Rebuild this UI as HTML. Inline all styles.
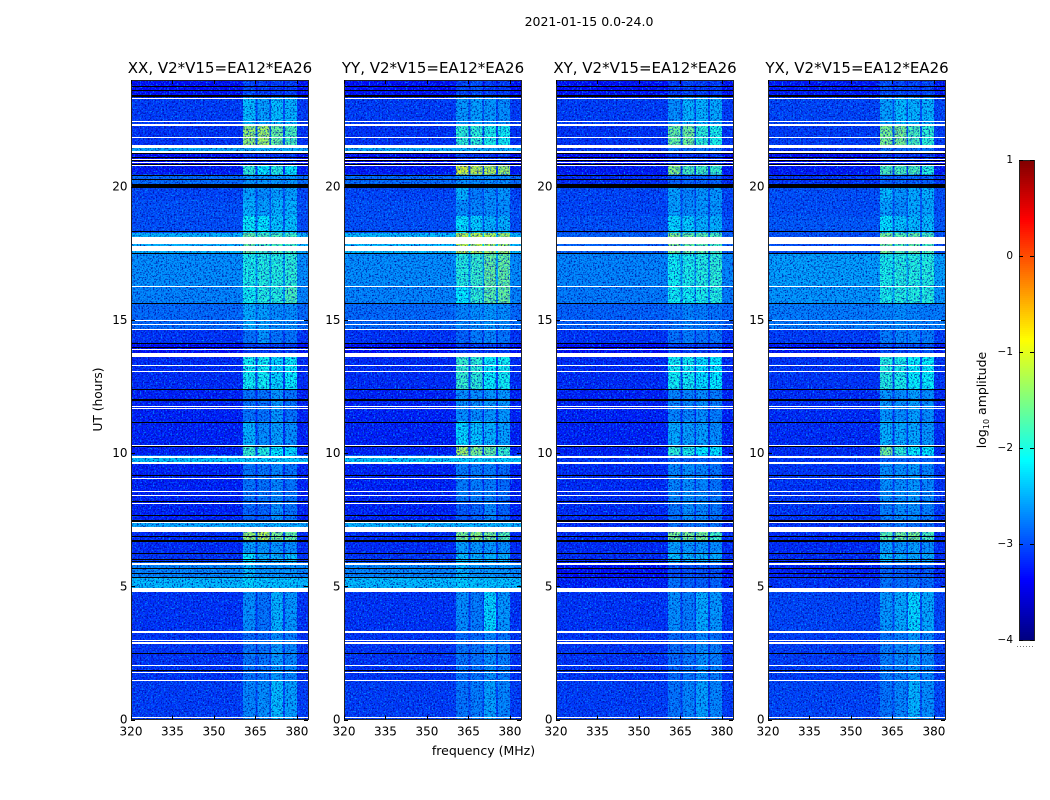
<!DOCTYPE html>
<html lang="en">
<head>
<meta charset="utf-8">
<title>2021-01-15 0.0-24.0</title>
<style>
html,body{margin:0;padding:0;background:#fff;}
svg{display:block;}
text{font-family:"DejaVu Sans","Liberation Sans",sans-serif;fill:#000;}
</style>
</head>
<body>
<svg id="chart" xmlns="http://www.w3.org/2000/svg" width="1050" height="800" viewBox="0 0 1050 800">
  <defs>
    <filter id="grain-light" x="0" y="0" width="100%" height="100%" color-interpolation-filters="sRGB">
      <feTurbulence type="fractalNoise" baseFrequency="0.62" numOctaves="2" seed="4"/>
      <feColorMatrix type="matrix" values="0 0 0 0 0  0 0 0 0 0.62  0 0 0 0 1  4 0 0 0 -2.0"/>
    </filter>
    <filter id="grain-dark" x="0" y="0" width="100%" height="100%" color-interpolation-filters="sRGB">
      <feTurbulence type="fractalNoise" baseFrequency="0.62" numOctaves="2" seed="11"/>
      <feColorMatrix type="matrix" values="0 0 0 0 0  0 0 0 0 0  0 0 0 0 0.6  0 4 0 0 -1.95"/>
    </filter>
  </defs>
  <text x="589" y="26" font-size="12.5" text-anchor="middle">2021-01-15 0.0-24.0</text>
  <text x="0" y="0" font-size="12.2" text-anchor="middle" transform="translate(102,399.5) rotate(-90)">UT (hours)</text>
  <text x="483.5" y="755" font-size="12.5" text-anchor="middle">frequency (MHz)</text>
  <text x="0" y="0" font-size="12.5" text-anchor="middle" transform="translate(986,400) rotate(-90)">log<tspan font-size="8" dy="3">10</tspan><tspan dy="-3"> amplitude</tspan></text>
  <g id="panels"></g>
  <g id="colorbar"></g>
</svg>
<script>
// ---- data -------------------------------------------------------------
const panelTitles = ["XX, V2*V15=EA12*EA26", "YY, V2*V15=EA12*EA26", "XY, V2*V15=EA12*EA26", "YX, V2*V15=EA12*EA26"];
const xTicks = [320, 335, 350, 365, 380];
const yTicks = [0, 5, 10, 15, 20];
const colorTicks = [1, 0, -1, -2, -3, -4];
const freqRange = [320, 384];
const hourRange = [0, 24];
const levelRange = [-4, 1];
// frequency zone edges (MHz): background, 4 receiver bands with gaps, background
const zoneEdges = [320, 360.5, 365, 365.7, 370, 370.7, 375, 375.7, 380, 384];
// time-block edges (UT hours)
const rowEdges = [0, 1.46, 2.96, 3.3, 4.9, 5.35, 5.9, 6.25, 6.7, 7.05, 7.4, 8.2, 9.62, 9.9, 10.3, 11.2, 12.4, 13.75, 14.1, 14.65, 15.6, 16.25, 17.5, 18.25, 18.9, 19.5, 20.05, 20.45, 20.85, 21.3, 21.55, 22.35, 23.35, 24];
// log10 amplitude per block: [background, band1, band2, band3, band4]
const levelsXX = [
 [-3.1,-2.7,-2.65,-2.4,-2.55],[-3.15,-2.8,-2.8,-2.6,-2.7],[-3.15,-2.85,-2.85,-2.65,-2.75],[-3.15,-2.65,-2.8,-2.45,-2.6],
 [-2.4,-2.25,-2.35,-2.35,-2.35],[-2.7,-2.4,-2.6,-2.6,-2.6],[-3.15,-2.15,-2.45,-2.45,-2.35],[-3.2,-2.55,-2.6,-2.6,-2.65],
 [-3.2,-1.35,-1.2,-1.5,-1.6],[-2.5,-2.5,-2.5,-2.45,-2.5],[-3.25,-2.9,-2.9,-2.65,-2.8],[-3.25,-2.8,-2.8,-2.7,-2.8],
 [-2.35,-2.3,-2.3,-2.3,-2.3],[-3.25,-1.85,-1.95,-2.15,-2.25],[-3.25,-2.45,-2.65,-2.55,-2.65],[-3.25,-2.8,-2.8,-2.6,-2.8],
 [-3.2,-2.05,-2.05,-2.25,-2.1],[-3.35,-3.1,-3.1,-3.1,-3.1],[-3.15,-2.8,-2.6,-2.8,-2.8],[-2.85,-2.5,-2.55,-2.65,-2.65],
 [-2.7,-2.05,-1.95,-1.95,-1.75],[-2.65,-2.0,-1.95,-1.95,-1.9],[-2.45,-1.6,-1.75,-1.75,-1.8],[-3.0,-2.1,-2.15,-2.35,-2.35],
 [-3.0,-2.45,-2.55,-2.45,-2.45],[-3.05,-2.55,-2.65,-2.55,-2.55],[-2.85,-2.6,-2.6,-2.6,-2.6],[-3.3,-1.9,-2.15,-1.95,-2.15],
 [-3.4,-3.15,-3.15,-3.15,-3.15],[-2.5,-2.45,-2.45,-2.45,-2.45],[-3.15,-1.35,-1.3,-1.6,-1.75],[-3.1,-2.4,-2.55,-2.4,-2.45],[-3.35,-3.05,-3.1,-3.1,-3.1]
];
const levelsYY = [
 [-3.1,-2.8,-2.75,-2.55,-2.7],[-3.15,-2.8,-2.8,-2.65,-2.75],[-3.15,-2.85,-2.85,-2.7,-2.8],[-3.15,-2.65,-2.75,-2.25,-2.6],
 [-2.4,-2.3,-2.35,-2.35,-2.35],[-2.7,-2.45,-2.6,-2.6,-2.6],[-3.15,-2.35,-2.45,-2.45,-2.45],[-3.2,-2.55,-2.6,-2.6,-2.65],
 [-3.2,-1.5,-1.4,-1.5,-1.7],[-2.45,-2.45,-2.45,-2.45,-2.45],[-3.25,-2.95,-2.9,-2.7,-2.9],[-3.25,-2.75,-2.75,-2.75,-2.85],
 [-2.35,-2.3,-2.3,-2.3,-2.3],[-3.25,-1.3,-1.5,-1.6,-1.85],[-3.25,-2.25,-2.35,-2.45,-2.55],[-3.25,-2.65,-2.65,-2.6,-2.6],
 [-3.2,-1.85,-1.9,-2.1,-2.05],[-3.35,-3.1,-3.1,-3.1,-3.1],[-3.15,-2.9,-2.75,-2.7,-2.8],[-2.85,-2.7,-2.65,-2.6,-2.65],
 [-2.7,-2.15,-1.9,-1.65,-1.6],[-2.65,-1.95,-1.85,-1.6,-1.6],[-2.4,-1.15,-1.15,-1.25,-1.3],[-3.0,-2.2,-2.3,-2.45,-2.45],
 [-3.0,-2.65,-2.7,-2.65,-2.65],[-3.05,-2.45,-2.75,-2.65,-2.6],[-2.85,-2.65,-2.65,-2.65,-2.65],[-3.3,-1.05,-1.15,-1.2,-1.3],
 [-3.4,-3.1,-3.15,-3.15,-3.1],[-2.5,-2.45,-2.45,-2.45,-2.45],[-3.15,-1.9,-1.9,-2.0,-2.05],[-3.1,-2.6,-2.55,-2.6,-2.65],[-3.35,-3.05,-3.0,-3.1,-3.1]
];
const levelsXY = [
 [-3.1,-2.8,-2.7,-2.55,-2.7],[-3.15,-2.85,-2.8,-2.65,-2.75],[-3.15,-2.85,-2.85,-2.7,-2.8],[-3.15,-2.65,-2.75,-2.5,-2.6],
 [-3.25,-2.8,-2.9,-2.9,-2.9],[-3.35,-3.0,-3.0,-3.0,-3.0],[-3.2,-2.35,-2.45,-2.45,-2.5],[-3.2,-2.55,-2.6,-2.6,-2.65],
 [-3.2,-1.5,-1.5,-1.5,-1.8],[-3.2,-2.8,-2.8,-2.8,-2.8],[-3.2,-2.8,-2.65,-2.7,-2.8],[-3.2,-2.7,-2.65,-2.7,-2.8],
 [-3.15,-2.9,-2.9,-2.9,-2.9],[-3.25,-1.9,-2.0,-2.15,-2.2],[-3.25,-2.5,-2.55,-2.55,-2.65],[-3.25,-2.7,-2.7,-2.65,-2.75],
 [-3.2,-2.05,-2.05,-2.2,-2.15],[-3.35,-3.1,-3.1,-3.1,-3.1],[-3.15,-2.8,-2.75,-2.8,-2.8],[-2.9,-2.8,-2.7,-2.75,-2.8],
 [-2.75,-2.05,-2.05,-2.0,-1.95],[-2.7,-2.05,-2.0,-1.95,-1.9],[-2.9,-1.45,-1.6,-1.65,-1.75],[-3.0,-2.25,-2.3,-2.45,-2.45],
 [-3.05,-2.55,-2.65,-2.6,-2.6],[-3.05,-2.55,-2.7,-2.6,-2.6],[-3.2,-2.9,-2.9,-2.9,-2.9],[-3.3,-1.45,-1.75,-1.8,-1.85],
 [-3.4,-3.15,-3.15,-3.15,-3.15],[-3.15,-2.8,-2.8,-2.8,-2.8],[-3.15,-1.6,-1.55,-1.9,-2.0],[-3.1,-2.65,-2.45,-2.45,-2.5],[-3.35,-3.1,-3.05,-3.1,-3.1]
];
const levelsYX = [
 [-3.05,-2.8,-2.7,-2.45,-2.65],[-3.1,-2.75,-2.7,-2.6,-2.7],[-3.1,-2.8,-2.75,-2.6,-2.7],[-3.05,-2.6,-2.5,-2.25,-2.5],
 [-3.15,-2.8,-2.85,-2.8,-2.85],[-3.25,-2.9,-2.95,-2.95,-2.95],[-3.2,-2.4,-2.5,-2.5,-2.5],[-3.2,-2.55,-2.6,-2.55,-2.65],
 [-3.2,-1.7,-1.55,-1.5,-1.75],[-3.15,-2.8,-2.75,-2.8,-2.8],[-3.15,-2.75,-2.65,-2.65,-2.75],[-3.15,-2.65,-2.65,-2.6,-2.7],
 [-3.15,-2.9,-2.85,-2.9,-2.9],[-3.2,-1.55,-1.9,-2.1,-2.15],[-3.2,-2.45,-2.5,-2.5,-2.6],[-3.2,-2.6,-2.65,-2.55,-2.65],
 [-3.15,-1.95,-2.0,-2.1,-2.1],[-3.3,-3.0,-3.0,-3.0,-3.0],[-3.1,-2.75,-2.7,-2.7,-2.75],[-2.75,-2.7,-2.65,-2.7,-2.75],
 [-2.6,-2.0,-1.95,-1.95,-1.95],[-2.55,-2.0,-1.95,-1.95,-1.95],[-3.0,-1.5,-1.7,-1.6,-1.75],[-2.95,-2.2,-2.35,-2.4,-2.4],
 [-3.0,-2.55,-2.65,-2.5,-2.5],[-3.0,-2.4,-2.6,-2.5,-2.45],[-3.15,-2.9,-2.9,-2.9,-2.9],[-3.3,-1.75,-1.75,-1.75,-1.95],
 [-3.4,-3.15,-3.15,-3.15,-3.15],[-3.15,-2.8,-2.8,-2.8,-2.8],[-3.1,-1.5,-1.5,-1.75,-1.9],[-3.05,-2.55,-2.4,-2.45,-2.45],[-3.3,-3.0,-3.05,-3.05,-3.05]
];
const panelLevels = [levelsXX, levelsYY, levelsXY, levelsYX];
// flagged (blank) time ranges, UT hours
const whiteStart = [0.04,1.43,1.76,2.02,2.85,2.96,3.26,4.80,5.80,7.05,7.38,8.10,8.38,8.55,9.02,9.60,9.82,10.25,11.65,11.74,13.03,13.25,13.60,13.88,14.63,14.82,14.97,16.22,17.60,17.85,20.77,20.90,21.00,21.26,21.45,21.82,22.29,22.41,23.28];
const whiteEnd   = [0.09,1.50,1.80,2.06,2.89,3.00,3.34,4.95,5.89,7.24,7.42,8.14,8.42,8.59,9.06,9.67,9.90,10.29,11.69,11.78,13.07,13.29,13.77,13.92,14.67,14.86,15.01,16.26,17.78,18.11,20.81,20.94,21.04,21.34,21.56,21.86,22.33,22.45,23.34];
// zero-amplitude (black) time ranges, UT hours
const blackStart = [1.82,2.44,5.32,5.47,5.64,5.90,5.99,6.22,6.68,6.85,7.43,7.65,8.15,9.12,10.23,11.11,11.97,12.38,13.94,14.09,15.59,17.46,18.28,19.95,20.23,20.38,20.82,20.96,21.07,21.21,23.38,23.58,23.75];
const blackEnd   = [1.86,2.48,5.36,5.51,5.68,5.94,6.03,6.26,6.72,6.89,7.47,7.69,8.19,9.16,10.25,11.15,12.01,12.42,13.98,14.13,15.63,17.50,18.32,20.08,20.27,20.42,20.86,21.00,21.11,21.25,23.42,23.62,23.79];

// ---- layout / scales --------------------------------------------------
const SVGNS = "http://www.w3.org/2000/svg";
const panelLeft = [131, 344, 556, 768];
const plotTop = 80, plotBottom = 719.5, plotWidth = 177;
function xScale(panel, f) { return panelLeft[panel] + (f - freqRange[0]) / (freqRange[1] - freqRange[0]) * plotWidth; }
function yScale(h) { return plotBottom - (h - hourRange[0]) / (hourRange[1] - hourRange[0]) * (plotBottom - plotTop); }
const cbLeft = 1019, cbWidth = 15, cbTop = 160, cbBottom = 640;
function cbScale(v) { return cbBottom - (v - levelRange[0]) / (levelRange[1] - levelRange[0]) * (cbBottom - cbTop); }
function clip01(v) { return Math.max(0, Math.min(1, v)); }
function jet(level) {
  const t = clip01((level - levelRange[0]) / (levelRange[1] - levelRange[0]));
  const r = clip01(Math.min(4 * t - 1.5, -4 * t + 4.5));
  const g = clip01(Math.min(4 * t - 0.5, -4 * t + 3.5));
  const b = clip01(Math.min(4 * t + 0.5, -4 * t + 2.5));
  return "rgb(" + Math.round(r * 255) + "," + Math.round(g * 255) + "," + Math.round(b * 255) + ")";
}
function mk(tag, attrs, parent) {
  const el = document.createElementNS(SVGNS, tag);
  for (const k in attrs) el.setAttribute(k, attrs[k]);
  parent.appendChild(el);
  return el;
}
function cellLevel(row, zone) {
  // odd zones 1,3,5,7 are bands; even interior zones are inter-band gaps
  if (zone === 0 || zone === 8) return row[0];
  if (zone % 2 === 1) return row[(zone + 1) / 2];
  const a = row[zone / 2], b = row[zone / 2 + 1];
  return row[0] + (Math.min(a, b) - row[0]) * 0.12;
}
function flagBar(parent, p, startHour, endHour, color) {
  const top = Math.round(yScale(endHour));
  const h = Math.max(1, Math.round(yScale(startHour)) - top);
  return mk("rect", { x: panelLeft[p], y: top, width: plotWidth, height: h, fill: color, "shape-rendering": "crispEdges" }, parent);
}

// ---- panels -----------------------------------------------------------
const panelsGroup = document.getElementById("panels");
panelTitles.forEach(function (title, p) {
  const g = mk("g", {}, panelsGroup);
  
  
  const heat = mk("g", { "shape-rendering": "crispEdges" }, g);
  
  
  panelLevels[p].forEach(function (row, r) {
    const yA = yScale(rowEdges[r + 1]), yB = yScale(rowEdges[r]);
    for (let z = 0; z < zoneEdges.length - 1; z++) {
      const xA = xScale(p, zoneEdges[z]), xB = xScale(p, zoneEdges[z + 1]);
      const cell = mk("rect", { x: xA.toFixed(2), y: yA.toFixed(2), width: (xB - xA).toFixed(2), height: (yB - yA).toFixed(2), fill: jet(cellLevel(row, z)) }, heat);
      
      
    }
  });
  const grainA = mk("rect", { x: panelLeft[p], y: plotTop, width: plotWidth, height: plotBottom - plotTop, fill: "#000", filter: "url(#grain-light)", opacity: 0.8 }, g);
  
  
  const grainB = mk("rect", { x: panelLeft[p], y: plotTop, width: plotWidth, height: plotBottom - plotTop, fill: "#000", filter: "url(#grain-dark)", opacity: 0.8 }, g);
  
  
  const flags = mk("g", {}, g);
  
  
  blackStart.forEach(function (s, i) {
    const bar = flagBar(flags, p, s, blackEnd[i], "#000");
    
    
  });
  whiteStart.forEach(function (s, i) {
    const bar = flagBar(flags, p, s, whiteEnd[i], "#fff");
    
    
  });
  const frame = mk("rect", { x: panelLeft[p] + 0.5, y: plotTop + 0.5, width: plotWidth, height: plotBottom - plotTop - 0.5, fill: "none", stroke: "#222", "stroke-width": 1, "shape-rendering": "crispEdges" }, g);
  
  
  xTicks.forEach(function (t) {
    const x = Math.round(xScale(p, t)) + 0.5;
    const b = mk("line", { x1: x, x2: x, y1: plotBottom, y2: plotBottom - 4, stroke: "#000", "shape-rendering": "crispEdges" }, g);
    
    
    const u = mk("line", { x1: x, x2: x, y1: plotTop, y2: plotTop + 4, stroke: "#000", "shape-rendering": "crispEdges" }, g);
    
    
    const label = mk("text", { x: xScale(p, t), y: plotBottom + 16, "font-size": 12, "text-anchor": "middle" }, g);
    label.textContent = t;
    
    
  });
  yTicks.forEach(function (t) {
    const y = Math.round(yScale(t)) + 0.5;
    const l = mk("line", { x1: panelLeft[p], x2: panelLeft[p] + 4, y1: y, y2: y, stroke: "#000", "shape-rendering": "crispEdges" }, g);
    
    
    const r = mk("line", { x1: panelLeft[p] + plotWidth, x2: panelLeft[p] + plotWidth - 4, y1: y, y2: y, stroke: "#000", "shape-rendering": "crispEdges" }, g);
    
    
    const label = mk("text", { x: panelLeft[p] - 3.5, y: yScale(t) + 4, "font-size": 12, "text-anchor": "end" }, g);
    label.textContent = t;
    
    
  });
  const heading = mk("text", { x: panelLeft[p] + plotWidth / 2 + 0.5, y: 73, "font-size": 15, "text-anchor": "middle" }, g);
  heading.textContent = title;
  
  
});

// ---- colorbar ---------------------------------------------------------
const cb = document.getElementById("colorbar");
for (let py = cbTop; py < cbBottom; py += 2) {
  const lv = levelRange[1] - (py + 1 - cbTop) / (cbBottom - cbTop) * (levelRange[1] - levelRange[0]);
  const seg = mk("rect", { x: cbLeft, y: py, width: cbWidth, height: 2, fill: jet(lv), "shape-rendering": "crispEdges" }, cb);
  
  
}
const cbFrame = mk("rect", { x: cbLeft + 0.5, y: cbTop + 0.5, width: cbWidth, height: cbBottom - cbTop, fill: "none", stroke: "#222", "shape-rendering": "crispEdges" }, cb);


colorTicks.forEach(function (t) {
  const y = Math.round(cbScale(t)) + 0.5;
  const a = mk("line", { x1: cbLeft, x2: cbLeft + 4, y1: y, y2: y, stroke: "#000", "shape-rendering": "crispEdges" }, cb);
  
  
  const b = mk("line", { x1: cbLeft + cbWidth, x2: cbLeft + cbWidth - 4, y1: y, y2: y, stroke: "#000", "shape-rendering": "crispEdges" }, cb);
  
  
  const label = mk("text", { x: cbLeft - 6, y: cbScale(t) + 3, "font-size": 10.5, "text-anchor": "end" }, cb);
  label.textContent = String(t).replace("-", "\u2212");
  
  
});
const dots = mk("line", { x1: 1017, x2: 1035, y1: 646.5, y2: 646.5, stroke: "#777", "stroke-width": 1, "stroke-dasharray": "1 2" }, cb);


</script>
</body>
</html>
